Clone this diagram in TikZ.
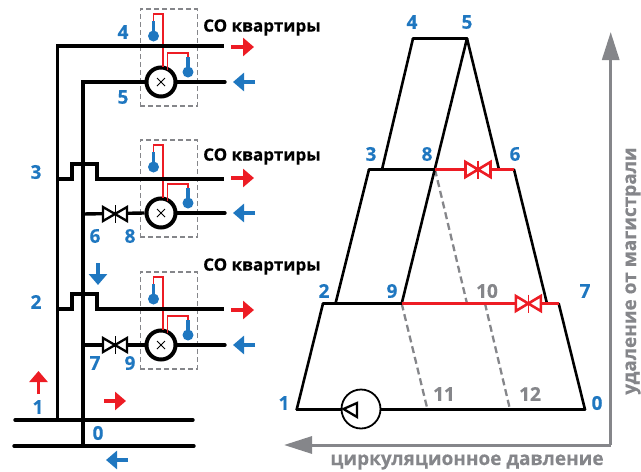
\documentclass[tikz,border=0pt]{standalone}
\usepackage{fontspec}
\setmainfont{Open Sans}[BoldFeatures={FakeBold=0.35}]
\usetikzlibrary{arrows.meta,calc}
\definecolor{cblue}{HTML}{1F77C0}
\definecolor{cred}{HTML}{ED1C24}
\definecolor{cgray}{HTML}{85868A}
\tikzset{
 pipe/.style={line width=3.4pt,black,line cap=round,line join=miter},
 redwire/.style={line width=1.6pt,cred},
 redline/.style={line width=2.6pt,cred},
 dbox/.style={draw=cgray,line width=1.2pt,dash pattern=on 5pt off 3pt,minimum width=57pt,minimum height=97pt,inner sep=0pt},
 meter/.style={circle,draw=black,fill=white,line width=4pt,minimum size=29pt,inner sep=0pt},
 pump/.style={circle,draw=black,fill=white,line width=1.8pt,minimum size=39pt,inner sep=0pt},
 num/.style={font=\bfseries\fontsize{19}{19}\selectfont,text=cblue,inner sep=0pt},
 gnum/.style={font=\bfseries\fontsize{19}{19}\selectfont,text=cgray,inner sep=0pt},
 colabel/.style={font=\bfseries\fontsize{17}{17}\selectfont,text=black,inner sep=0pt},
 axlabel/.style={font=\bfseries\fontsize{19}{19}\selectfont,text=cgray,inner sep=0pt},
 redarr/.style={line width=3.3pt,cred,-{Triangle[width=18pt,length=11pt]}},
 bluearr/.style={line width=3.3pt,cblue,-{Triangle[width=18pt,length=11pt]}},
 axis/.style={line width=3pt,cgray,-{Triangle[width=17pt,length=28pt]}},
 grayd/.style={line width=2.3pt,cgray,dash pattern=on 7pt off 4pt},
 therm/.style={line width=3.2pt,cblue},
 bulb/.style={circle,fill=cblue,minimum size=11pt,inner sep=0pt},
 tri/.style={line width=2.3pt,black,fill=white,line join=miter},
 redtri/.style={line width=2.6pt,cred,fill=white,line join=miter},
 tr/.style={line width=2.6pt,black,line join=miter,line cap=round},
}
\begin{document}
\begin{tikzpicture}[x=1pt,y=-1pt]
\useasboundingbox (0,0) rectangle (641,472);
% junction coordinates, left scheme
\coordinate (r1b) at (57.5,420); \coordinate (r2b) at (83,445.5);
\coordinate (r1t) at (57.5,46); \coordinate (r2t) at (83,82);
\coordinate (s1e) at (224,46);
\coordinate (mL1) at (15,420); \coordinate (mR1) at (193,420);
\coordinate (mL2) at (14,446); \coordinate (mR2) at (194,446);
% apartments
\foreach \o/\n in {0/a,131/b,263/c}{
 \begin{scope}[shift={(0,\o)}]
  \node[dbox] (box\n) at (168.7,57.5) {};
  \coordinate (t1\n) at (153.5,21); \coordinate (t1b\n) at (153.5,36);
  \coordinate (t2\n) at (188,57); \coordinate (t2b\n) at (188,72);
  \coordinate (ru\n) at (163,14); \coordinate (rl\n) at (153.5,14);
  \coordinate (qu\n) at (167.5,53); \coordinate (qr\n) at (188,53);
  \coordinate (ret\n) at (225,82);
  \node[meter] (m\n) at (161,82) {};
  \draw[line width=1pt] ($(m\n)+(-4,-4)$) -- ($(m\n)+(4,4)$) ($(m\n)+(-4,4)$) -- ($(m\n)+(4,-4)$);
  \draw[redwire] (m\n.north -| ru\n) ++(0,1) -- (ru\n) -- (rl\n) -- (t1\n);
  \draw[redwire] (qu\n |- m\n.north) ++(0,4) -- (qu\n) -- (qr\n) -- (t2\n);
  \draw[therm] (t1\n) -- (t1b\n); \node[bulb] (b1\n) at (t1b\n) {};
  \draw[therm] (t2\n) -- (t2b\n); \node[bulb] (b2\n) at (t2b\n) {};
  \draw[pipe] (m\n.east) -- (ret\n);
  \coordinate (ra\n) at (231,47); \coordinate (rb\n) at (254,47);
  \coordinate (ba\n) at (255,82); \coordinate (bb\n) at (233,82);
  \draw[redarr] (ra\n) -- (rb\n);
  \draw[bluearr] (ba\n) -- (bb\n);
 \end{scope}
}
\draw[pipe,line cap=butt] (r1b) -- (r1t) -- (s1e);
\draw[pipe,line cap=butt] (r2b) -- (r2t) -- (ma.west);
\draw[pipe] (mL1) -- (mR1);
\draw[pipe] (mL2) -- (mR2);
% supply branches with loops over return riser
\coordinate (sb0) at (57.5,179); \coordinate (sb1) at (72,179); \coordinate (sb2) at (72,164); \coordinate (sb3) at (97,164); \coordinate (sb4) at (97,179); \coordinate (sb5) at (224,179);
\coordinate (sc0) at (57.5,309); \coordinate (sc1) at (72,309); \coordinate (sc2) at (72,294); \coordinate (sc3) at (97,294); \coordinate (sc4) at (97,309); \coordinate (sc5) at (224,309);
\draw[pipe,line cap=butt] (sb0) -- (sb1) -- (sb2) -- (sb3) -- (sb4) -- (sb5);
\draw[pipe,line cap=butt] (sc0) -- (sc1) -- (sc2) -- (sc3) -- (sc4) -- (sc5);
% returns with valves
\foreach \n/\y in {b/214,c/345}{
 \coordinate (vc\n) at (115,\y);
 \draw[pipe,line cap=butt] (83,\y) -- (m\n.west);
 \draw[tri] (103,\y-7) -- (127,\y+7) -- (127,\y-7) -- (103,\y+7) -- cycle;
 \draw[line width=1pt] (115,\y-9) -- (115,\y+9);
}
% extra arrows
\coordinate (d1) at (98,263); \coordinate (d2) at (98,285);
\coordinate (u1) at (38.5,394); \coordinate (u2) at (38.5,371);
\coordinate (h1) at (104,401); \coordinate (h2) at (126,401);
\coordinate (h3) at (128,460); \coordinate (h4) at (106,460);
\draw[bluearr] (d1) -- (d2);
\draw[redarr] (u1) -- (u2);
\draw[redarr] (h1) -- (h2);
\draw[bluearr] (h3) -- (h4);
% left labels
\node[num] (l4) at (123,32) {4};
\node[num] (l5) at (123,97) {5};
\node[num] (l3) at (36,172) {3};
\node[num] (l6) at (95,236) {6};
\node[num] (l8) at (130,236) {8};
\node[num] (l2) at (36,302) {2};
\node[num] (l7) at (95,363) {7};
\node[num] (l9) at (130,363) {9};
\node[num] (l1) at (38,407) {1};
\node[num] (l0) at (98,433) {0};
\node[colabel,anchor=west] (co1) at (203,27.5) {СО квартиры};
\node[colabel,anchor=west] (co2) at (203,156.5) {СО квартиры};
\node[colabel,anchor=west] (co3) at (203,266.5) {СО квартиры};
% right diagram
\coordinate (p4) at (413,38.5); \coordinate (p5) at (467,38.5);
\coordinate (p3) at (369,169.5); \coordinate (p3i) at (382,169.5);
\coordinate (p8) at (435,169.5); \coordinate (p6i) at (499,169.5); \coordinate (p6) at (514,169.5);
\coordinate (p2) at (323,303.5); \coordinate (p2i) at (335.5,303.5);
\coordinate (p9) at (401.7,303.5); \coordinate (p10) at (467,303.5); \coordinate (p10b) at (485,303.5);
\coordinate (p7i) at (547,303.5); \coordinate (p7) at (558.7,303.5);
\coordinate (p1) at (296.7,409.5); \coordinate (p0) at (585,409.5);
\coordinate (p11) at (427.5,409.5); \coordinate (p12) at (510,409.5);
\draw[grayd] (p8) -- (p10);
\draw[grayd] (p10b) -- (p12);
\draw[grayd] (p9) -- (p11);
\draw[tr] (p4) -- (p5);
\draw[tr] (p4) -- (p3i);
\draw[tr] (p5) -- (p9);
\draw[tr] (p5) -- (p6i);
\draw[tr] (p3) -- (p8);
\draw[tr] (p3) -- (p2i);
\draw[tr] (p6) -- (p7i);
\draw[tr] (p2) -- (p9);
\draw[tr] (p2) -- (p1);
\draw[tr] (p7) -- (p0);
\draw[tr] (p1) -- (p0);
\draw[redline] (p8) -- (p6);
\draw[redline] (p9) -- (p7);
\foreach \x/\y in {478/169.5,528.3/303.5}{
 \draw[redtri] (\x-12.5,\y-7.5) -- (\x+12.5,\y+7.5) -- (\x+12.5,\y-7.5) -- (\x-12.5,\y+7.5) -- cycle;
 \draw[line width=1.2pt,cred] (\x,\y-9) -- (\x,\y+9);
}
\node[pump] (pmp) at (361,409) {};
\draw[tri] (343.5,409) -- (357,403) -- (357,417) -- cycle;
% axes
\coordinate (ax0) at (610.7,445); \coordinate (axu) at (610.7,32); \coordinate (axl) at (284,445);
\draw[axis] (ax0) -- (axu);
\draw[axis] (ax0) -- (axl);
% right labels
\node[num] (r4) at (412,22) {4};
\node[num] (r5) at (467,22) {5};
\node[num] (r3) at (371,154) {3};
\node[num] (r8) at (427,154) {8};
\node[num] (r6) at (515,154) {6};
\node[num] (r2) at (324,291) {2};
\node[num] (r9) at (392,291) {9};
\node[num] (r7) at (585,291) {7};
\node[num] (r1) at (284,403) {1};
\node[num] (r0) at (597,403) {0};
\node[gnum] (g10) at (487,291) {10};
\node[gnum] (g11) at (444,394) {11};
\node[gnum] (g12) at (530,394) {12};
\node[axlabel,rotate=90] (axv) at (633,271) {удаление от магистрали};
\node[axlabel] (axh) at (467,462) {циркуляционное давление};
\end{tikzpicture}
\end{document}
